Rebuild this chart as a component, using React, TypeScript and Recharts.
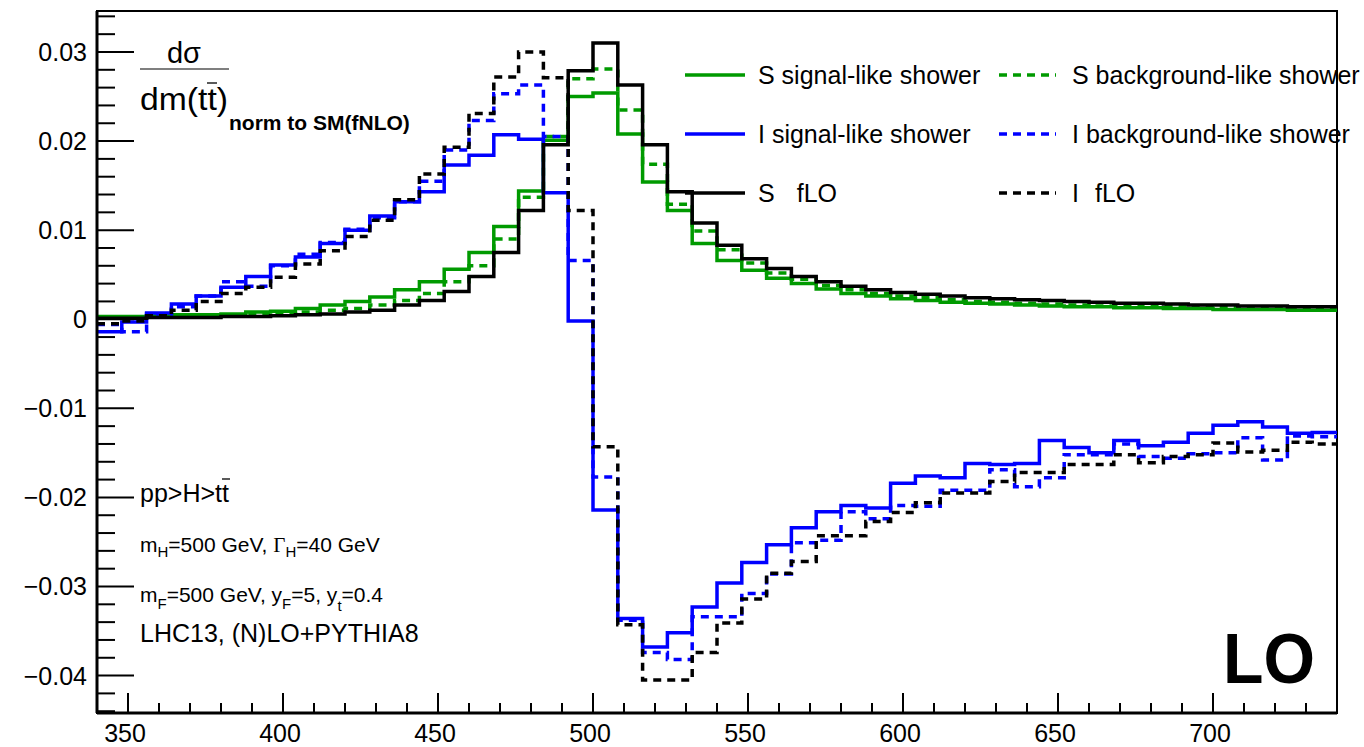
import React from "react";
import { LineChart, Line, XAxis, YAxis, ReferenceArea, Legend } from "recharts";

const FONT = '"Liberation Sans", Arial, Helvetica, sans-serif';
const SERIF = '"Liberation Serif", "Times New Roman", serif';

const GREEN = "#009a00";
const BLUE = "#0000ff";
const BLACK = "#000000";
const DASH = "8 6";

// m(tt̄) bin edges in GeV (8 GeV bins)
const BIN_EDGES = [
  340, 348, 356, 364, 372, 380, 388, 396, 404, 412,
  420, 428, 436, 444, 452, 460, 468, 476, 484, 492,
  500, 508, 516, 524, 532, 540, 548, 556, 564, 572,
  580, 588, 596, 604, 612, 620, 628, 636, 644, 652,
  660, 668, 676, 684, 692, 700, 708, 716, 724, 732,
  740,
];

// S, signal-like shower
const S_SIGNAL = [
  0.0003, 0.0003, 0.0004, 0.0005, 0.0005, 0.0006, 0.0008, 0.0009, 0.0012, 0.0016,
  0.002, 0.0025, 0.0033, 0.0042, 0.0056, 0.0075, 0.0104, 0.0144, 0.0201, 0.025,
  0.0254, 0.0208, 0.0154, 0.0122, 0.0085, 0.0066, 0.0055, 0.0046, 0.004, 0.0034,
  0.0029, 0.0026, 0.0023, 0.0021, 0.0019, 0.0018, 0.0017, 0.0016, 0.0015, 0.0014,
  0.0014, 0.0013, 0.0013, 0.0012, 0.0012, 0.0011, 0.0011, 0.0011, 0.001, 0.001,
];

// S, background-like shower
const S_BACKGROUND = [
  0.0002, 0.0002, 0.0003, 0.0003, 0.0004, 0.0004, 0.0005, 0.0006, 0.0008, 0.001,
  0.0012, 0.0016, 0.0021, 0.0029, 0.0042, 0.006, 0.009, 0.0137, 0.0205, 0.027,
  0.0281, 0.0235, 0.0174, 0.0129, 0.0099, 0.0078, 0.0063, 0.0052, 0.0045, 0.0038,
  0.0033, 0.0029, 0.0026, 0.0024, 0.0022, 0.002, 0.0019, 0.0018, 0.0017, 0.0016,
  0.0015, 0.0015, 0.0014, 0.0014, 0.0013, 0.0013, 0.0012, 0.0012, 0.0012, 0.0011,
];

// I, signal-like shower
const I_SIGNAL = [
  -0.0014, -0.0003, 0.0007, 0.0017, 0.0026, 0.0036, 0.0048, 0.0061, 0.007, 0.0085,
  0.01, 0.0116, 0.0132, 0.0143, 0.0173, 0.0184, 0.0207, 0.0202, 0.0142, -0.0002,
  -0.0214, -0.0336, -0.0368, -0.0352, -0.0323, -0.0296, -0.0273, -0.0253, -0.0234, -0.0216,
  -0.0209, -0.0212, -0.0184, -0.0176, -0.0178, -0.0162, -0.0163, -0.0162, -0.0136, -0.0144,
  -0.015, -0.0136, -0.0142, -0.0138, -0.0128, -0.0119, -0.0115, -0.0121, -0.0128, -0.0127,
];

// I, background-like shower
const I_BACKGROUND = [
  -0.0006, -0.0014, 0.0006, 0.0014, 0.0026, 0.0042, 0.0037, 0.006, 0.0073, 0.0086,
  0.0101, 0.0114, 0.0132, 0.0155, 0.019, 0.0223, 0.0253, 0.0263, 0.0205, 0.0066,
  -0.0177, -0.0338, -0.0374, -0.0382, -0.0334, -0.0334, -0.0308, -0.0286, -0.0251, -0.0248,
  -0.0216, -0.0224, -0.0209, -0.021, -0.0192, -0.0192, -0.0169, -0.0188, -0.0178, -0.0152,
  -0.0152, -0.014, -0.0154, -0.0156, -0.0151, -0.015, -0.0133, -0.0158, -0.0131, -0.0132,
];

// S, fLO
const S_FLO = [
  0.0001, 0.0001, 0.0002, 0.0002, 0.0002, 0.0003, 0.0003, 0.0004, 0.0005, 0.0006,
  0.0008, 0.001, 0.0016, 0.0021, 0.0031, 0.0048, 0.0075, 0.0122, 0.0196, 0.0279,
  0.031, 0.0263, 0.0196, 0.0143, 0.0108, 0.0083, 0.0068, 0.0057, 0.0048, 0.0042,
  0.0037, 0.0033, 0.003, 0.0028, 0.0026, 0.0024, 0.0023, 0.0022, 0.0021, 0.002,
  0.0019, 0.0018, 0.0018, 0.0017, 0.0016, 0.0016, 0.0015, 0.0015, 0.0014, 0.0014,
];

// I, fLO
const I_FLO = [
  -0.0005, -0.0002, 0.0004, 0.001, 0.002, 0.0029, 0.0036, 0.0047, 0.0062, 0.0077,
  0.0093, 0.0111, 0.0134, 0.0163, 0.0193, 0.0231, 0.0272, 0.03, 0.0271, 0.0122,
  -0.0143, -0.0343, -0.0405, -0.0405, -0.0374, -0.0341, -0.0314, -0.0285, -0.0272, -0.0243,
  -0.0243, -0.0227, -0.0217, -0.0206, -0.0195, -0.0195, -0.0182, -0.0172, -0.0172, -0.0163,
  -0.0163, -0.0152, -0.0161, -0.0154, -0.0152, -0.0139, -0.0149, -0.0147, -0.0138, -0.014,
];

const X_MAJOR = [350, 400, 450, 500, 550, 600, 650, 700];
const Y_MAJOR = [-0.04, -0.03, -0.02, -0.01, 0, 0.01, 0.02, 0.03];
const X_MIN = 340;
const X_MAX = 740;
const Y_MIN = -0.0442;
const Y_MAX = 0.0346;

// minor tick grid: every 10 GeV on x, every 0.002 on y
const X_TICKS: number[] = [];
for (let v = X_MIN; v <= X_MAX; v += 10) X_TICKS.push(v);
const Y_TICKS: number[] = [];
for (let k = -22; k <= 17; k++) Y_TICKS.push(Number((k * 0.002).toFixed(3)));

const SERIES = [
  { key: "sSig", values: S_SIGNAL, color: GREEN, dashed: false, label: "S signal-like shower" },
  { key: "sBkg", values: S_BACKGROUND, color: GREEN, dashed: true, label: "S background-like shower" },
  { key: "iSig", values: I_SIGNAL, color: BLUE, dashed: false, label: "I signal-like shower" },
  { key: "iBkg", values: I_BACKGROUND, color: BLUE, dashed: true, label: "I background-like shower" },
  { key: "sLO", values: S_FLO, color: BLACK, dashed: false, label: "S|fLO" },
  { key: "iLO", values: I_FLO, color: BLACK, dashed: true, label: "I|fLO" },
];

// step histogram rows: one row per bin edge, last edge repeats the last bin
const rows = BIN_EDGES.map((edge, i) => {
  const j = Math.min(i, S_SIGNAL.length - 1);
  const row: Record<string, number> = { m: edge };
  SERIES.forEach((s) => {
    row[s.key] = s.values[j];
  });
  return row;
});

const fmtY = (v: number) => {
  if (Math.abs(v) < 1e-9) return "0";
  return (v < 0 ? "\u2212" : "") + Math.abs(v).toFixed(2);
};

const isMajorY = (v: number) => Y_MAJOR.some((m) => Math.abs(m - v) < 1e-9);

const YTick = (props: any) => {
  const { x, y, payload } = props;
  const v = payload.value as number;
  const major = isMajorY(v);
  return (
    <g>
      <line x1={x} x2={x + (major ? 37 : 18)} y1={y} y2={y} stroke="#000" strokeWidth={2} />
      {major && (
        <text x={x - 10} y={y + 9} textAnchor="end" fontSize={25} fontFamily={FONT} fill="#000">
          {fmtY(v)}
        </text>
      )}
    </g>
  );
};

const XTick = (props: any) => {
  const { x, y, payload } = props;
  const v = payload.value as number;
  const major = X_MAJOR.includes(v);
  return (
    <g>
      <line x1={x} x2={x} y1={y} y2={y - (major ? 20 : 10)} stroke="#000" strokeWidth={2} />
      {major && (
        <text x={x - 3} y={y + 29} textAnchor="middle" fontSize={25} fontFamily={FONT} fill="#000">
          {v}
        </text>
      )}
    </g>
  );
};

const renderLegend = () => (
  <svg width={684} height={180} style={{ overflow: "visible" }}>
    {SERIES.map((s, idx) => {
      const col = idx % 2;
      const row = Math.floor(idx / 2);
      const cy = 35 + row * 59;
      const lx0 = col === 0 ? 5 : 319;
      const lx1 = col === 0 ? 65 : 376;
      const tx = col === 0 ? 78 : 392;
      const parts = s.label.split("|");
      return (
        <g key={s.key}>
          <line
            x1={lx0}
            x2={lx1}
            y1={cy}
            y2={cy}
            stroke={s.color}
            strokeWidth={3.5}
            strokeDasharray={s.dashed ? DASH : undefined}
          />
          <text x={tx} y={cy + 9} fontSize={25} fontFamily={FONT} fill="#000">
            {parts.length === 1 ? (
              parts[0]
            ) : (
              <>
                <tspan>{parts[0]}</tspan>
                <tspan dx={parts[0] === "S" ? 22 : 16}>{parts[1]}</tspan>
              </>
            )}
          </text>
        </g>
      );
    })}
  </svg>
);

export default function App() {
  return (
    <div
      style={{
        position: "absolute",
        left: 0,
        top: 0,
        width: 1364,
        height: 747,
        background: "#fff",
        overflow: "hidden",
      }}
    >
      <LineChart width={1364} height={747} data={rows} margin={{ top: 11, right: 27, bottom: 0, left: 0 }}>
        <XAxis
          dataKey="m"
          type="number"
          domain={[X_MIN, X_MAX]}
          ticks={X_TICKS}
          interval={0}
          tickSize={0}
          tickMargin={0}
          tickLine={false}
          tick={(p: any) => <XTick {...p} />}
          height={34}
          axisLine={{ stroke: "#000", strokeWidth: 3 }}
          allowDataOverflow
        />
        <YAxis
          type="number"
          domain={[Y_MIN, Y_MAX]}
          ticks={Y_TICKS}
          interval={0}
          tickSize={0}
          tickMargin={0}
          tickLine={false}
          tick={(p: any) => <YTick {...p} />}
          width={97}
          axisLine={{ stroke: "#000", strokeWidth: 3 }}
          allowDataOverflow
        />
        <ReferenceArea
          x1={X_MIN}
          x2={X_MAX}
          y1={Y_MIN}
          y2={Y_MAX}
          fill="none"
          fillOpacity={0}
          stroke="#000"
          strokeWidth={2}
        />
        {SERIES.map((s) => (
          <Line
            key={s.key}
            dataKey={s.key}
            type="stepAfter"
            stroke={s.color}
            strokeWidth={3.5}
            strokeDasharray={s.dashed ? DASH : undefined}
            dot={false}
            activeDot={false}
            isAnimationActive={false}
          />
        ))}
        <Legend
          layout="horizontal"
          verticalAlign="middle"
          align="center"
          content={renderLegend}
          wrapperStyle={{ position: "absolute", left: 680, top: 40, width: 684, height: 180 }}
        />
      </LineChart>

      <svg
        width={1364}
        height={747}
        style={{ position: "absolute", left: 0, top: 0, pointerEvents: "none" }}
        fontFamily={FONT}
        fill="#000"
      >
        {/* y-axis title as a fraction */}
        <text x={184} y={63} textAnchor="middle" fontSize={29}>
          dσ
        </text>
        <line x1={140} x2={229} y1={69} y2={69} stroke="#555" strokeWidth={1.3} />
        <text x={140} y={110} fontSize={31} textLength={88} lengthAdjust="spacingAndGlyphs">
          dm(tt)
        </text>
        <line x1={207} x2={217} y1={83} y2={83} stroke="#000" strokeWidth={1.3} />
        <text x={229} y={130} fontSize={21} fontWeight="bold">
          norm to SM(fNLO)
        </text>

        {/* process and parameter labels */}
        <text x={140} y={502} fontSize={25}>
          pp&gt;H&gt;tt
        </text>
        <line x1={222} x2={230} y1={479} y2={479} stroke="#000" strokeWidth={1.3} />
        <text x={140} y={552} fontSize={21}>
          <tspan>m</tspan>
          <tspan fontSize={15} dy={5}>H</tspan>
          <tspan dy={-5}>=500 GeV, </tspan>
          <tspan fontFamily={SERIF}>Γ</tspan>
          <tspan fontSize={15} dy={5}>H</tspan>
          <tspan dy={-5}>=40 GeV</tspan>
        </text>
        <text x={140} y={602} fontSize={21}>
          <tspan>m</tspan>
          <tspan fontSize={15} dy={7}>F</tspan>
          <tspan dy={-7}>=500 GeV, y</tspan>
          <tspan fontSize={15} dy={7}>F</tspan>
          <tspan dy={-7}>=5, y</tspan>
          <tspan fontSize={15} dy={9}>t</tspan>
          <tspan dy={-9}>=0.4</tspan>
        </text>
        <text x={140} y={642} fontSize={25}>
          LHC13, (N)LO+PYTHIA8
        </text>

        <text x={1315} y={683} textAnchor="end" fontSize={70} fontWeight="bold" textLength={92} lengthAdjust="spacingAndGlyphs">
          LO
        </text>
      </svg>
    </div>
  );
}
